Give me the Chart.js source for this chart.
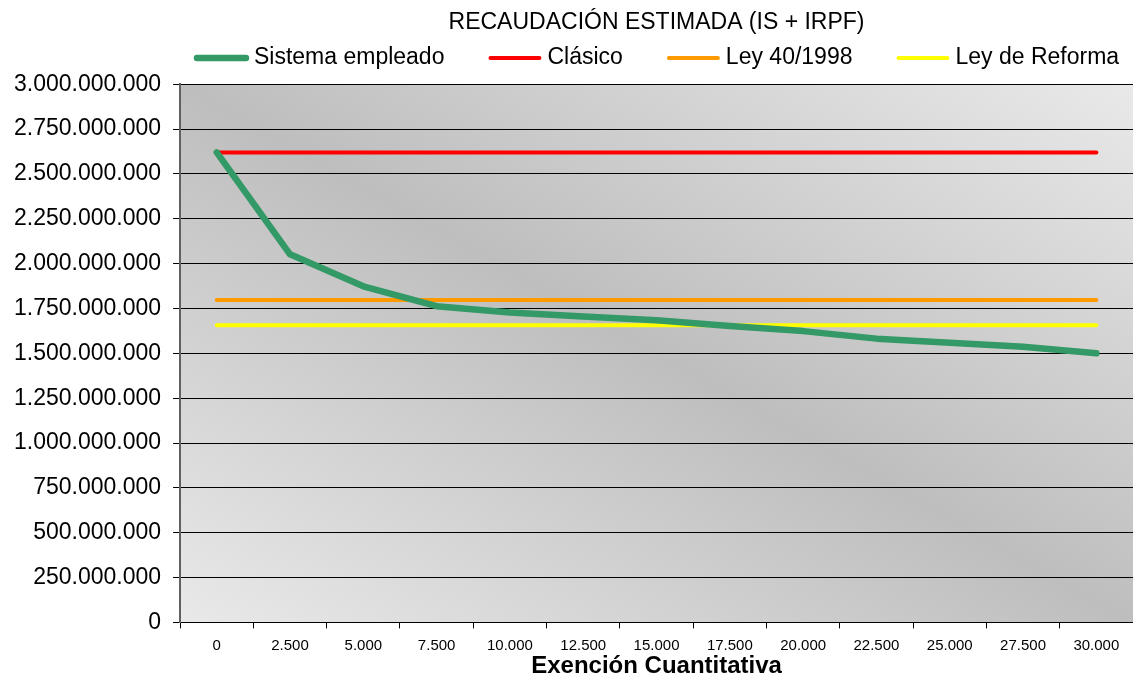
<!DOCTYPE html>
<html>
<head>
<meta charset="utf-8">
<script src="https://cdn.jsdelivr.net/npm/chart.js@4.4.0/dist/chart.umd.min.js"></script>
<style>
  html, body { margin: 0; padding: 0; background: #fff; }
  #wrap { width: 1133px; height: 677px; }
</style>
</head>
<body>
<div id="wrap"><canvas id="myChart"></canvas></div>
<script>
// Exención cuantitativa (eje X)
const exenciones = ['0', '2.500', '5.000', '7.500', '10.000', '12.500', '15.000', '17.500', '20.000', '22.500', '25.000', '27.500', '30.000']

// recaudación estimada por sistema
const sistemaEmpleado = [2620000000, 2052000000, 1874000000, 1763000000, 1728000000, 1706000000, 1685000000, 1652000000, 1624000000, 1582000000, 1559000000, 1537000000, 1500000000]
const clasico = [2620000000, 2620000000, 2620000000, 2620000000, 2620000000, 2620000000, 2620000000, 2620000000, 2620000000, 2620000000, 2620000000, 2620000000, 2620000000]
const ley40 = [1798000000, 1798000000, 1798000000, 1798000000, 1798000000, 1798000000, 1798000000, 1798000000, 1798000000, 1798000000, 1798000000, 1798000000, 1798000000]
const leyReforma = [1656000000, 1656000000, 1656000000, 1656000000, 1656000000, 1656000000, 1656000000, 1656000000, 1656000000, 1656000000, 1656000000, 1656000000, 1656000000]

const fuente = 'Liberation Sans, Arial, sans-serif'

const puntos = v => v.toString().replace(/\B(?=(\d{3})+(?!\d))/g, '.')

// fondo degradado del área de trazado
const fondo = {
  id: 'fondo',
  beforeDraw (chart) {
    const { ctx, chartArea: a } = chart
    ctx.save()
    ctx.translate(a.left, a.top)
    ctx.scale(a.right - a.left, a.bottom - a.top)
    const g = ctx.createLinearGradient(0, 1, 1, 0)
    g.addColorStop(0, '#e9e9e9')
    g.addColorStop(0.5, '#bebebe')
    g.addColorStop(1, '#e9e9e9')
    ctx.fillStyle = g
    ctx.fillRect(0, 0, 1, 1)
    ctx.restore()
  }
}

// leyenda dibujada a mano (espaciado amplio, una fila)
const leyenda = {
  id: 'leyenda',
  afterDraw (chart) {
    const { ctx, chartArea: a } = chart
    const muestra = 55
    const hueco = 5
    const sep = 43
    const y = 58
    ctx.save()
    ctx.font = '23px ' + fuente
    const items = chart.data.datasets.map(ds => ({ ds, w: ctx.measureText(ds.label).width }))
    const total = items.reduce((s, it) => s + muestra + hueco + it.w, 0) + sep * (items.length - 1)
    let x = (a.left + a.right) / 2 - total / 2
    items.forEach(it => {
      ctx.strokeStyle = it.ds.borderColor
      ctx.lineWidth = it.ds.borderWidth
      ctx.lineCap = 'round'
      ctx.beginPath()
      ctx.moveTo(x + 3, y)
      ctx.lineTo(x + muestra - 3, y)
      ctx.stroke()
      ctx.fillStyle = '#000'
      ctx.textBaseline = 'middle'
      ctx.textAlign = 'left'
      ctx.fillText(it.ds.label, x + muestra + hueco, y)
      x += muestra + hueco + it.w + sep
    })
    ctx.restore()
  }
}

const linea = (label, data, color, width) => ({
  label,
  data,
  borderColor: color,
  backgroundColor: color,
  borderWidth: width,
  borderCapStyle: 'round',
  borderJoinStyle: 'round',
  pointRadius: 0,
  tension: 0
})

new Chart(document.getElementById('myChart'), {
  type: 'line',
  data: {
    labels: exenciones,
    datasets: [
      linea('Sistema empleado', sistemaEmpleado, '#339966', 6.5),
      linea('Clásico', clasico, '#ff0000', 4),
      linea('Ley 40/1998', ley40, '#ff9900', 4),
      linea('Ley de Reforma', leyReforma, '#ffff00', 4)
    ]
  },
  options: {
    responsive: true,
    maintainAspectRatio: false,
    animation: false,
    layout: { padding: { left: 2, right: 0, top: 0, bottom: 0 } },
    plugins: {
      legend: { display: false },
      tooltip: { enabled: false },
      title: {
        display: true,
        fullSize: false,
        text: 'RECAUDACIÓN ESTIMADA (IS + IRPF)',
        color: '#000',
        font: { family: fuente, size: 23, weight: 'normal', lineHeight: 1.1 },
        padding: { top: 10, bottom: 49 }
      }
    },
    scales: {
      x: {
        offset: true,
        grid: { display: true, drawOnChartArea: false, drawTicks: true, tickLength: 6, color: '#000', offset: true },
        border: { display: true, color: '#000', width: 1 },
        ticks: { color: '#000', font: { family: fuente, size: 15 }, padding: 8, maxRotation: 0, autoSkip: false },
        title: {
          display: true,
          text: 'Exención Cuantitativa',
          color: '#000',
          font: { family: fuente, size: 24, weight: 'bold', lineHeight: 0.9 },
          padding: { top: -7, bottom: 0 }
        }
      },
      y: {
        min: 0,
        max: 3000000000,
        ticks: { stepSize: 250000000, color: '#000', font: { family: fuente, size: 23 }, padding: 12, callback: v => puntos(v) },
        grid: { color: '#000', lineWidth: 1, tickLength: 7 },
        border: { display: true, color: '#606060', width: 2 }
      }
    }
  },
  plugins: [fondo, leyenda]
})
</script>
</body>
</html>
